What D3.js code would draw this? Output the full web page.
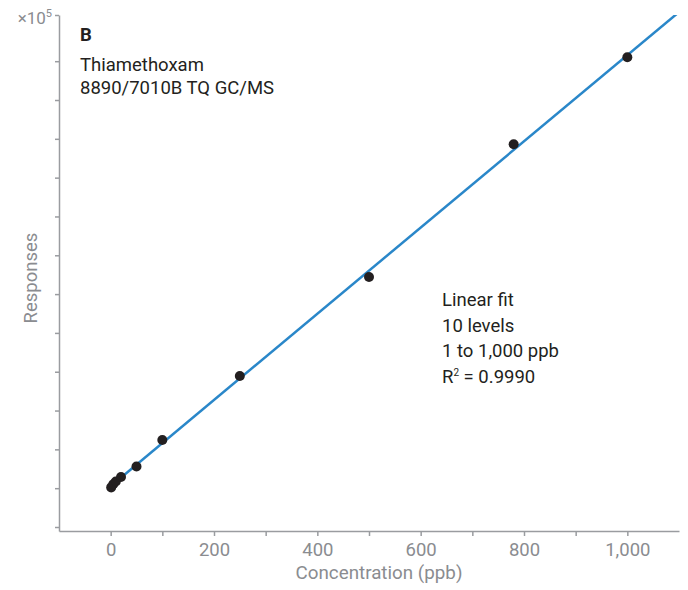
<!DOCTYPE html>
<meta charset="utf-8">
<style>
body { margin: 0; background: #fff; }
text { font-family: Roboto, "Noto Sans", sans-serif; }
.axis path, .axis line { stroke: #9a9ca0; stroke-width: 1.5; }
.axis text { fill: #8a8c90; font-size: 18.5px; }
</style>
<body>
<script src="https://d3js.org/d3.v7.min.js"></script>
<script>

// calibration levels (ppb) and responses (x10^5)
var concentrations = [1, 5, 10, 20, 50, 100, 250, 500, 780, 1000];
var responses = [1.02, 1.10, 1.17, 1.29, 1.56, 2.24, 3.89, 6.44, 9.86, 12.10];

var xTicks = [0, 100, 200, 300, 400, 500, 600, 700, 800, 900, 1000];
var yTicks = [0, 1, 2, 3, 4, 5, 6, 7, 8, 9, 10, 11, 12, 13.19];

var titleLines = ["Thiamethoxam", "8890/7010B TQ GC/MS"];
var fitLines = ["Linear fit", "10 levels", "1 to 1,000 ppb"];

var width = 688, height = 590;

var x = d3.scaleLinear().domain([-100, 1100]).range([59, 679]);
var y = d3.scaleLinear().domain([-0.103, 13.19]).range([531, 15]);

var svg = d3.select("body").append("svg")
    .attr("width", width)
    .attr("height", height);

// axes
svg.append("g")
    .attr("class", "axis")
    .attr("transform", "translate(0," + y(-0.103) + ")")
    .call(d3.axisBottom(x)
      .tickValues(xTicks)
      .tickSize(5)
      .tickSizeOuter(0)
      .tickPadding(7)
      .tickFormat(function(d) { return d % 200 === 0 ? d3.format(",")(d) : ""; }));

svg.append("g")
    .attr("class", "axis")
    .attr("transform", "translate(" + x(-100) + ",0)")
    .call(d3.axisLeft(y)
      .tickValues(yTicks)
      .tickSize(4)
      .tickSizeOuter(0)
      .tickFormat(""));

svg.selectAll(".axis").attr("font-family", null).attr("font-size", null);

// axis titles
svg.append("text")
    .attr("x", 379)
    .attr("y", 579)
    .attr("text-anchor", "middle")
    .attr("fill", "#8a8c90")
    .style("font-size", "18.8px")
    .text("Concentration (ppb)");

svg.append("text")
    .attr("transform", "translate(37,278) rotate(-90)")
    .attr("text-anchor", "middle")
    .attr("fill", "#8a8c90")
    .style("font-size", "18.5px")
    .text("Responses");

// x10^5 multiplier
var mult = svg.append("text")
    .attr("x", 52)
    .attr("y", 24)
    .attr("text-anchor", "end")
    .attr("fill", "#8a8c90")
    .style("font-size", "17px");
mult.append("tspan").text("\u00d710");
mult.append("tspan").attr("dy", -7).style("font-size", "11px").text("5");

// least squares fit line
var xm = d3.mean(concentrations), ym = d3.mean(responses);
var sxy = d3.sum(concentrations, function(c, i) { return (c - xm) * (responses[i] - ym); });
var sxx = d3.sum(concentrations, function(c) { return (c - xm) * (c - xm); });
var slope = sxy / sxx, intercept = ym - slope * xm;

svg.append("clipPath").attr("id", "plot")
  .append("rect")
    .attr("x", x(-100)).attr("y", y(13.19))
    .attr("width", x(1100) - x(-100))
    .attr("height", y(-0.103) - y(13.19));

svg.append("line")
    .attr("clip-path", "url(#plot)")
    .attr("x1", x(0)).attr("y1", y(intercept))
    .attr("x2", x(1100)).attr("y2", y(intercept + slope * 1100))
    .attr("stroke", "#2a87c9")
    .attr("stroke-width", 2.5);

// points
svg.selectAll(".dot")
    .data(concentrations)
  .enter().append("circle")
    .attr("class", "dot")
    .attr("cx", function(d) { return x(d); })
    .attr("cy", function(d, i) { return y(responses[i]); })
    .attr("r", 5)
    .attr("fill", "#231f20");

// panel label and title
svg.append("text")
    .attr("x", 80).attr("y", 41)
    .attr("fill", "#231f20")
    .style("font-size", "18.5px")
    .style("font-weight", "bold")
    .text("B");

svg.selectAll(".title")
    .data(titleLines)
  .enter().append("text")
    .attr("class", "title")
    .attr("x", 80)
    .attr("y", function(d, i) { return 71 + i * 23; })
    .attr("fill", "#231f20")
    .style("font-size", "18.5px")
    .text(function(d) { return d; });

// fit annotation
svg.selectAll(".fit")
    .data(fitLines)
  .enter().append("text")
    .attr("class", "fit")
    .attr("x", 442)
    .attr("y", function(d, i) { return 306 + i * 25.5; })
    .attr("fill", "#231f20")
    .style("font-size", "18.5px")
    .text(function(d) { return d; });

var r2 = svg.append("text")
    .attr("x", 442)
    .attr("y", 306 + 3 * 25.5)
    .attr("fill", "#231f20")
    .style("font-size", "18.5px");
r2.append("tspan").text("R");
r2.append("tspan").attr("dy", -7).style("font-size", "10px").text("2");
r2.append("tspan").attr("dy", 7).text(" = 0.9990");

</script>
</body>
